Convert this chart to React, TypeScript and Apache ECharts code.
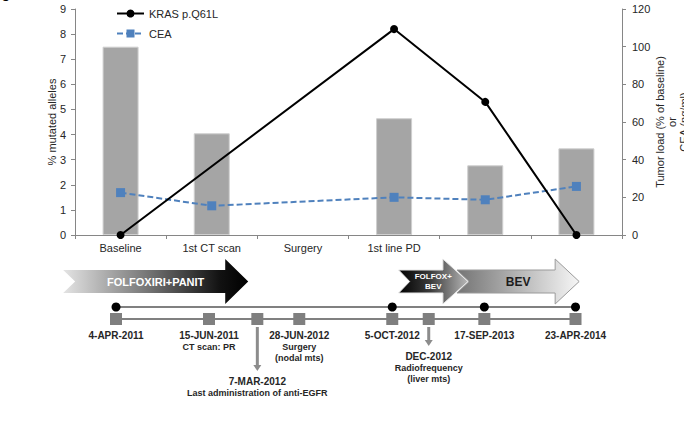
import React, { useEffect, useRef } from "react";
import * as echarts from "echarts";

// Clinical time points on the category axis
const categories = ["Baseline", "1st CT scan", "Surgery", "1st line PD", "", ""];
// Tumor load, % of baseline (right axis)
const tumorLoad: (number | null)[] = [100, 54, null, 62, 37, 46];
// KRAS p.Q61L, % mutated alleles (left axis)
const krasAlleles: (number | null)[] = [0, null, null, 8.2, 5.3, 0];
// CEA, ng/ml (right axis)
const ceaLevels: (number | null)[] = [22.5, 15.5, null, 20, 18.7, 25.8];

const leftAxisMax = 9;
const leftAxisStep = 1;
const rightAxisMax = 120;
const rightAxisStep = 20;
const rightAxisTitle = "Tumor load (% of baseline)\nor\nCEA (ng/ml)";

// Timeline, expressed in category-axis units
const samplingPoints = [-0.05, 2.98, 3.99, 4.99];
const eventPoints = [-0.05, 0.97, 1.5, 1.96, 2.98, 3.38, 3.99, 4.99];
const eventDates = [
  "4-APR-2011",
  "15-JUN-2011",
  "7-MAR-2012",
  "28-JUN-2012",
  "5-OCT-2012",
  "DEC-2012",
  "17-SEP-2013",
  "23-APR-2014",
];
const eventNotes: string[][] = [
  [],
  ["CT scan: PR"],
  ["Last administration of anti-EGFR"],
  ["Surgery", "(nodal mts)"],
  [],
  ["Radiofrequency", "(liver mts)"],
  [],
  [],
];
const therapyNames = ["FOLFOXIRI+PANIT", "BEV", "FOLFOX+\nBEV"];
const therapyStart = [-0.63, 3.69, 3.05];
const therapyEnd = [1.4, 5.03, 3.81];

const FONT = "Liberation Sans, Arial, sans-serif";
const AXIS_GRAY = "#868686";
const TEXT = "#262626";

// leader arrow length below a timeline square (px), 0 = none
const leaderLength = [0, 0, 44, 0, 0, 19, 0, 0];

function arrowPoints(
  x0: number,
  x1: number,
  yMid: number,
  body: number,
  head: number,
  headLen: number,
  notch: number
) {
  return [
    [x0, yMid - body],
    [x1 - headLen, yMid - body],
    [x1 - headLen, yMid - head],
    [x1, yMid],
    [x1 - headLen, yMid + head],
    [x1 - headLen, yMid + body],
    [x0, yMid + body],
    [x0 + notch, yMid],
  ];
}

export default function App() {
  const ref = useRef<HTMLDivElement>(null);

  useEffect(() => {
    if (!ref.current) return;
    const chart = echarts.init(ref.current, undefined, { renderer: "svg" });

    const option: any = {
      animation: false,
      backgroundColor: "#ffffff",
      textStyle: { fontFamily: FONT },
      legend: {
        data: ["KRAS p.Q61L", "CEA"],
        orient: "vertical",
        left: 111,
        top: 3,
        itemWidth: 27,
        itemHeight: 10,
        itemGap: 9,
        textStyle: { fontSize: 11, color: TEXT, fontFamily: FONT },
      },
      grid: [
        { left: 75, right: 62, top: 9, height: 226 },
        { left: 75, right: 62, top: 307, height: 12 },
      ],
      xAxis: [
        {
          type: "category",
          gridIndex: 0,
          data: categories,
          boundaryGap: true,
          axisLine: { lineStyle: { color: AXIS_GRAY } },
          axisTick: { show: true, interval: 0, length: 4, lineStyle: { color: AXIS_GRAY } },
          axisLabel: { interval: 0, margin: 7, fontSize: 11, color: TEXT, fontFamily: FONT },
        },
        { type: "value", gridIndex: 1, min: -0.5, max: 5.5, show: false },
      ],
      yAxis: [
        {
          type: "value",
          gridIndex: 0,
          min: 0,
          max: leftAxisMax,
          interval: leftAxisStep,
          name: "% mutated alleles",
          nameLocation: "middle",
          nameRotate: 90,
          nameGap: 18,
          nameMoveOverlap: false,
          nameTextStyle: { fontSize: 11, color: TEXT, fontFamily: FONT },
          axisLine: { show: true, lineStyle: { color: AXIS_GRAY } },
          axisTick: { show: true, length: 4, lineStyle: { color: AXIS_GRAY } },
          axisLabel: { margin: 9, fontSize: 11, color: TEXT, fontFamily: FONT },
          splitLine: { show: false },
        },
        {
          type: "value",
          gridIndex: 0,
          position: "right",
          min: 0,
          max: rightAxisMax,
          interval: rightAxisStep,
          axisLine: { show: true, lineStyle: { color: AXIS_GRAY } },
          axisTick: { show: true, length: 4, lineStyle: { color: AXIS_GRAY } },
          axisLabel: { margin: 10, fontSize: 11, color: TEXT, fontFamily: FONT },
          splitLine: { show: false },
        },
        { type: "value", gridIndex: 1, min: 0, max: 1, show: false },
      ],
      series: [
        {
          name: "Tumor load",
          type: "bar",
          xAxisIndex: 0,
          yAxisIndex: 1,
          data: tumorLoad,
          barWidth: 36,
          itemStyle: { color: "#a5a5a5", borderColor: "#cfcfcf", borderWidth: 1 },
          z: 1,
        },
        {
          name: "CEA",
          type: "line",
          xAxisIndex: 0,
          yAxisIndex: 1,
          data: ceaLevels,
          connectNulls: true,
          symbol: "rect",
          symbolSize: 9,
          itemStyle: { color: "#4f81bd" },
          lineStyle: { color: "#4f81bd", width: 2, type: [6, 3] },
          z: 3,
        },
        {
          name: "KRAS p.Q61L",
          type: "line",
          xAxisIndex: 0,
          yAxisIndex: 0,
          data: krasAlleles,
          connectNulls: true,
          symbol: "circle",
          symbolSize: 8,
          itemStyle: { color: "#000000" },
          lineStyle: { color: "#000000", width: 2 },
          z: 4,
        },
        {
          name: "samples",
          type: "line",
          xAxisIndex: 1,
          yAxisIndex: 2,
          data: samplingPoints.map((x) => [x, 1]),
          symbol: "circle",
          symbolSize: 9,
          showAllSymbol: true,
          itemStyle: { color: "#000000" },
          lineStyle: { color: "#808080", width: 2 },
          z: 3,
        },
        {
          name: "events",
          type: "line",
          xAxisIndex: 1,
          yAxisIndex: 2,
          data: eventPoints.map((x) => [x, 0]),
          symbol: "rect",
          symbolSize: 12,
          showAllSymbol: true,
          itemStyle: { color: "#7f7f7f" },
          lineStyle: { color: "#808080", width: 2 },
          z: 3,
        },
      ],
    };

    chart.setOption(option);

    const toPx = (x: number, y: number) =>
      chart.convertToPixel({ gridIndex: 1 } as any, [x, y]) as number[];
    const toMain = (x: number, y: number) =>
      chart.convertToPixel({ xAxisIndex: 0, yAxisIndex: 1 } as any, [x, y]) as number[];

    const graphics: any[] = [];

    // panel letter, clipped by the top edge
    graphics.push({
      type: "text",
      x: 1,
      y: -13,
      style: { text: "c", fontSize: 16, fontWeight: "bold", fill: "#000", fontFamily: FONT },
    });

    // right axis title, three rotated lines beside the tick labels
    const band = toMain(1, 0)[0] - toMain(0, 0)[0];
    const rightEdge = toMain(categories.length - 1, 0)[0] + band / 2;
    const midAxisY = (toMain(0, 0)[1] + toMain(0, rightAxisMax)[1]) / 2;
    graphics.push({
      type: "text",
      x: rightEdge + 50,
      y: midAxisY,
      rotation: Math.PI / 2,
      style: {
        text: rightAxisTitle,
        fill: TEXT,
        fontSize: 11,
        fontFamily: FONT,
        align: "center",
        verticalAlign: "middle",
        lineHeight: 12,
      },
    });

    // therapy arrows
    const rowY = toPx(0, 1)[1];
    const midY = rowY - 25.5;
    const arrowStyles = [
      {
        fill: new echarts.graphic.LinearGradient(0, 0, 1, 0, [
          { offset: 0, color: "#e4e4e4" },
          { offset: 0.45, color: "#777777" },
          { offset: 0.85, color: "#111111" },
          { offset: 1, color: "#000000" },
        ]),
        stroke: "none",
        lineWidth: 0,
        text: "#ffffff",
        size: 11,
        headLen: 23,
        notch: 12,
      },
      {
        fill: new echarts.graphic.LinearGradient(0, 0, 1, 0, [
          { offset: 0, color: "#747474" },
          { offset: 1, color: "#f6f6f6" },
        ]),
        stroke: "#9a9a9a",
        lineWidth: 1,
        text: "#1c1c1c",
        size: 12,
        headLen: 24,
        notch: 12,
      },
      {
        fill: new echarts.graphic.LinearGradient(0, 0, 1, 0, [
          { offset: 0, color: "#000000" },
          { offset: 0.45, color: "#3a3a3a" },
          { offset: 1, color: "#b8b8b8" },
        ]),
        stroke: "#e6e6e6",
        lineWidth: 1,
        text: "#ffffff",
        size: 8,
        headLen: 25,
        notch: 11,
      },
    ];
    therapyNames.forEach((name, i) => {
      const s = arrowStyles[i];
      const x0 = toPx(therapyStart[i], 1)[0];
      const x1 = toPx(therapyEnd[i], 1)[0];
      graphics.push({
        type: "polygon",
        shape: { points: arrowPoints(x0, x1, midY, 11.5, 22.5, s.headLen, s.notch) },
        style: { fill: s.fill, stroke: s.stroke, lineWidth: s.lineWidth },
        z: 10 + i,
      });
      graphics.push({
        type: "text",
        x: (x0 + x1) / 2,
        y: midY,
        z: 20 + i,
        style: {
          text: name,
          fill: s.text,
          fontSize: s.size,
          fontWeight: "bold",
          fontFamily: FONT,
          align: "center",
          verticalAlign: "middle",
          lineHeight: s.size + 2,
        },
      });
    });

    // event labels under the timeline
    eventPoints.forEach((at, i) => {
      const [px, py] = toPx(at, 0);
      let y = py + 16;
      const lead = leaderLength[i];
      if (lead > 0) {
        const y0 = py + 8;
        const y1 = y0 + lead;
        graphics.push({
          type: "line",
          shape: { x1: px, y1: y0, x2: px, y2: y1 - 5 },
          style: { stroke: "#8c8c8c", lineWidth: 3 },
        });
        graphics.push({
          type: "polygon",
          shape: { points: [[px - 4, y1 - 6], [px + 4, y1 - 6], [px, y1]] },
          style: { fill: "#8c8c8c" },
        });
        y = y1 + 10;
      }
      graphics.push({
        type: "text",
        x: px,
        y,
        style: {
          text: eventDates[i],
          fill: TEXT,
          fontSize: 10,
          fontWeight: "bold",
          fontFamily: FONT,
          align: "center",
          verticalAlign: "middle",
        },
      });
      eventNotes[i].forEach((note, k) => {
        graphics.push({
          type: "text",
          x: px,
          y: y + 11.5 * (k + 1),
          style: {
            text: note,
            fill: TEXT,
            fontSize: 9,
            fontWeight: "bold",
            fontFamily: FONT,
            align: "center",
            verticalAlign: "middle",
          },
        });
      });
    });

    chart.setOption({ graphic: graphics });

    return () => chart.dispose();
  }, []);

  return (
    <div
      ref={ref}
      style={{ position: "fixed", left: 0, top: 0, width: 684, height: 424, background: "#fff" }}
    />
  );
}
